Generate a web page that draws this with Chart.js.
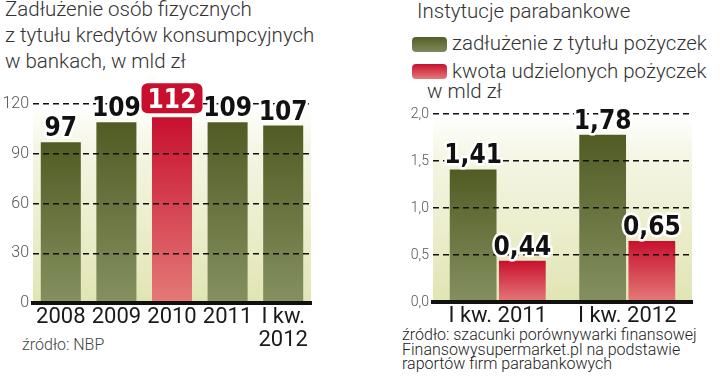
<!DOCTYPE html>
<html>
<head>
<meta charset="utf-8">
<script src="https://cdn.jsdelivr.net/npm/chart.js@4.4.1/dist/chart.umd.min.js"></script>
<style>
  html, body { margin: 0; padding: 0; background: #fff; }
  body { width: 720px; height: 378px; position: relative; overflow: hidden;
         font-family: Roboto, 'Liberation Sans', sans-serif; color: #333; }
  canvas { position: absolute; top: 0; }
  .t { position: absolute; white-space: nowrap; font-weight: 300; }
  .sw { position: absolute; width: 35px; height: 15px; border-radius: 4px; }
</style>
</head>
<body>
<div class="t" style="left:5px; top:-4px; font-size:20.5px; line-height:26px;">
  Zadłużenie osób fizycznych<br>z tytułu kredytów konsumpcyjnych<br>w bankach, w mld zł
</div>
<div class="t" style="left:417px; top:-2px; font-size:20.5px; line-height:26px;">Instytucje parabankowe</div>
<div class="sw" style="left:412px; top:37px; background:linear-gradient(#535e26,#7f8a5c);"></div>
<div class="t" id="leg0" style="left:452px; top:30px; font-size:20.5px; line-height:26px;"></div>
<div class="sw" style="left:412px; top:64px; background:linear-gradient(#c8102e,#e47a78);"></div>
<div class="t" id="leg1" style="left:452px; top:58px; font-size:20.5px; line-height:26px;"></div>
<div class="t" style="left:427px; top:78px; font-size:20.5px; line-height:26px;">w mld zł</div>
<div class="t" style="left:22px; top:335px; font-size:16px; line-height:20px; color:#444;">źródło: NBP</div>
<div class="t" style="left:402px; top:328px; font-size:16px; line-height:14.5px; color:#222;">
  źródło: szacunki porównywarki finansowej<br>Finansowysupermarket.pl na podstawie<br>raportów firm parabankowych
</div>

<canvas id="left" width="360" height="378" style="left:0;"></canvas>
<canvas id="right" width="360" height="378" style="left:360px;"></canvas>

<script>
// left chart: household consumer-credit debt in banks, bln zł
const bankYears = ['2008', '2009', '2010', '2011', ['I kw.', '2012']];
const bankDebt = [97, 109, 112, 109, 107];
const bankTicks = [0, 30, 60, 90, 120];
const highlightYear = 2; // 2010

// right chart: para-banking institutions
const paraQuarters = ['I kw. 2011', 'I kw. 2012'];
const paraSeriesNames = ['zadłużenie z tytułu pożyczek', 'kwota udzielonych pożyczek'];
const paraDebt = [1.41, 1.78];
const paraLoans = [0.44, 0.65];
const paraTicks = [0, 0.5, 1.0, 1.5, 2.0];

document.getElementById('leg0').textContent = paraSeriesNames[0];
document.getElementById('leg1').textContent = paraSeriesNames[1];

const GREEN = ['#515c24', '#84905f'];
const RED = ['#c8102e', '#e47a78'];

function barFill(c, colors) {
  const chart = c.chart;
  const area = chart.chartArea;
  if (!area) return colors[0];
  const top = chart.scales.y.getPixelForValue(c.raw);
  const g = chart.ctx.createLinearGradient(0, top, 0, area.bottom);
  g.addColorStop(0, colors[0]);
  g.addColorStop(1, colors[1]);
  return g;
}

const panel = {
  id: 'panel',
  beforeDraw(chart) {
    const a = chart.chartArea, ctx = chart.ctx;
    const g = ctx.createLinearGradient(0, a.top, 0, a.bottom);
    g.addColorStop(0, 'rgba(230,232,190,0)');
    g.addColorStop(0.25, 'rgba(230,232,190,0.45)');
    g.addColorStop(1, '#e1e5b2');
    ctx.save();
    ctx.fillStyle = g;
    ctx.fillRect(a.left, a.top, a.right - a.left, a.bottom - a.top);
    ctx.restore();
  }
};

function fmt(v, dec) {
  return dec ? v.toFixed(dec).replace('.', ',') : String(v);
}

function valueLabels(dec, highlight) {
  return {
    id: 'valueLabels',
    afterDraw(chart) {
      const ctx = chart.ctx;
      ctx.save();
      ctx.font = 'bold 26px "Liberation Sans Narrow", "DejaVu Sans Condensed", sans-serif';
      ctx.textAlign = 'center';
      ctx.textBaseline = 'alphabetic';
      ctx.lineJoin = 'round';
      chart.data.datasets.forEach((ds, di) => {
        chart.getDatasetMeta(di).data.forEach((bar, i) => {
          const txt = fmt(ds.data[i], dec);
          if (i === highlight) {
            const w = 61, h = 30;
            const x = bar.x - w / 2, y = bar.y - 6 - h + 2;
            ctx.fillStyle = '#c8102e';
            ctx.beginPath();
            ctx.roundRect(x, y, w, h, 6);
            ctx.fill();
            ctx.fillStyle = '#fff';
            ctx.fillText(txt, bar.x, y + h - 5);
          } else {
            ctx.strokeStyle = '#fff';
            ctx.lineWidth = 5;
            ctx.strokeText(txt, bar.x, bar.y - 6);
            ctx.fillStyle = '#111';
            ctx.fillText(txt, bar.x, bar.y - 6);
          }
        });
      });
      ctx.restore();
    }
  };
}

function yAxis(ticks, width, size, dec) {
  return {
    min: ticks[0], max: ticks[ticks.length - 1],
    afterFit: (s) => { s.width = width; },
    afterBuildTicks: (s) => { s.ticks = ticks.map((v) => ({ value: v })); },
    ticks: {
      padding: 4,
      color: '#555',
      font: { family: 'Roboto', size: size, weight: 300 },
      callback: (v) => fmt(v, dec)
    },
    grid: {
      z: 1,
      drawTicks: false,
      lineWidth: 1.5,
      color: (c) => (c.tick && c.tick.value === 0 ? 'rgba(0,0,0,0)' : '#111'),
      borderDash: [6, 4]
    },
    border: { display: false, dash: [6, 4] }
  };
}

function xAxis(height) {
  return {
    afterFit: (s) => { s.height = height; },
    ticks: {
      padding: 3,
      color: '#1a1a1a',
      font: { family: 'Roboto', size: 22, weight: 400, lineHeight: 1.05 },
      maxRotation: 0, autoSkip: false
    },
    grid: { display: false, drawTicks: false },
    border: { display: true, color: '#111', width: 4, z: 2 }
  };
}

new Chart(document.getElementById('left'), {
  type: 'bar',
  data: {
    labels: bankYears,
    datasets: [{
      data: bankDebt,
      backgroundColor: (c) => barFill(c, c.dataIndex === highlightYear ? RED : GREEN),
      categoryPercentage: 1,
      barPercentage: 0.72
    }]
  },
  options: {
    responsive: false,
    animation: false,
    layout: { padding: { left: 0, top: 104, right: 49, bottom: 0 } },
    plugins: { legend: { display: false }, tooltip: { enabled: false } },
    scales: { x: xAxis(75), y: yAxis(bankTicks, 33, 16, 0) }
  },
  plugins: [panel, valueLabels(0, highlightYear)]
});

new Chart(document.getElementById('right'), {
  type: 'bar',
  data: {
    labels: paraQuarters,
    datasets: [
      { label: paraSeriesNames[0], data: paraDebt, backgroundColor: (c) => barFill(c, GREEN),
        categoryPercentage: 0.76, barPercentage: 0.95 },
      { label: paraSeriesNames[1], data: paraLoans, backgroundColor: (c) => barFill(c, RED),
        categoryPercentage: 0.76, barPercentage: 0.95 }
    ]
  },
  options: {
    responsive: false,
    animation: false,
    layout: { padding: { left: 0, top: 114, right: 28, bottom: 0 } },
    plugins: { legend: { display: false }, tooltip: { enabled: false } },
    scales: { x: xAxis(76), y: yAxis(paraTicks, 73, 14, 1) }
  },
  plugins: [panel, valueLabels(2, -1)]
});
</script>
</body>
</html>
